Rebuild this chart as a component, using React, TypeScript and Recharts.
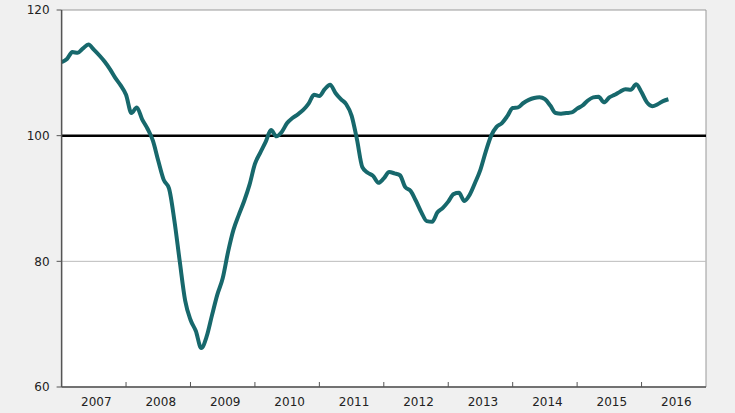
import { LineChart, Line, XAxis, YAxis, ReferenceLine, ReferenceArea } from 'recharts';

// monthly index values, Jan 2007 .. Jun 2016
const y2007 = [111.7, 112.2, 113.3, 113.2, 113.9, 114.5, 113.7, 112.8, 111.8, 110.6, 109.2, 108.0];
const y2008 = [106.5, 103.6, 104.5, 102.6, 101.1, 99.2, 96.0, 93.0, 91.6, 86.5, 80.0, 73.8];
const y2009 = [70.7, 68.9, 66.2, 68.0, 71.4, 74.7, 77.3, 81.5, 85.0, 87.4, 89.6, 92.2];
const y2010 = [95.5, 97.3, 99.0, 100.9, 99.9, 100.6, 102.0, 102.8, 103.4, 104.1, 105.1, 106.5];
const y2011 = [106.3, 107.4, 108.1, 106.8, 105.8, 105.0, 103.2, 99.4, 95.0, 94.1, 93.6, 92.5];
const y2012 = [93.2, 94.2, 94.0, 93.7, 91.8, 91.2, 89.6, 87.8, 86.4, 86.3, 87.8, 88.5];
const y2013 = [89.5, 90.7, 90.9, 89.6, 90.6, 92.5, 94.6, 97.5, 100.0, 101.4, 102.0, 103.1];
const y2014 = [104.4, 104.5, 105.2, 105.7, 106.0, 106.1, 105.8, 104.8, 103.6, 103.5, 103.6, 103.7];
const y2015 = [104.3, 104.8, 105.6, 106.1, 106.2, 105.3, 106.1, 106.5, 107.0, 107.4, 107.3, 108.2];
const y2016 = [106.9, 105.3, 104.7, 105.0, 105.5, 105.8];

const years = ['2007', '2008', '2009', '2010', '2011', '2012', '2013', '2014', '2015', '2016'];
const yTicks = [60, 80, 100, 120];

const values = [...y2007, ...y2008, ...y2009, ...y2010, ...y2011, ...y2012, ...y2013, ...y2014, ...y2015, ...y2016];
const data = values.map((v, i) => ({ m: i, v }));

// year boundaries get a tick mark, year middles get the label
const boundaries = years.slice(1).map((_, i) => (i + 1) * 12);
const middles = years.map((_, i) => i * 12 + 6);
const xTicks = [...middles, ...boundaries].sort((a, b) => a - b);

const font = 'DejaVu Sans, Verdana, sans-serif';

function YearTick(props: any) {
  const { x, y, payload } = props;
  const v = payload.value;
  if (v % 12 === 0) {
    return <line x1={x} y1={y} x2={x} y2={y - 5} stroke="#555" strokeWidth={1} />;
  }
  return (
    <text x={x + 2.5} y={y + 19} textAnchor="middle" fontSize={12} fontFamily={font} fill="#222">
      {years[Math.floor(v / 12)]}
    </text>
  );
}

export default function App() {
  return (
    <div style={{ position: 'fixed', left: 0, top: 0, width: 735, height: 413, background: '#f0f0f0' }}>
      <LineChart width={735} height={413} data={data} margin={{ top: 10, right: 29, bottom: 0, left: 11.6 }}>
        <ReferenceArea x1={0} x2={120} y1={60} y2={120} fill="#fff" fillOpacity={1} stroke="#999" strokeWidth={1} />
        <XAxis
          dataKey="m"
          type="number"
          domain={[0, 120]}
          ticks={xTicks}
          interval={0}
          tickSize={0}
          tickMargin={0}
          tick={<YearTick />}
          height={26}
          stroke="#555"
          axisLine={{ stroke: '#555', strokeWidth: 1.5 }}
        />
        <YAxis
          type="number"
          domain={[60, 120]}
          ticks={yTicks}
          width={50}
          tickSize={5}
          tickMargin={7}
          axisLine={{ stroke: '#555', strokeWidth: 1.5 }}
          tickLine={{ stroke: '#555' }}
          tick={{ fontSize: 12, fontFamily: font, fill: '#222' }}
        />
        <ReferenceLine y={80} stroke="#bbb" strokeWidth={1} />
        <ReferenceLine y={100} stroke="#000" strokeWidth={2.5} />
        <Line
          type="monotone"
          dataKey="v"
          stroke="#17686c"
          strokeWidth={4}
          dot={false}
          isAnimationActive={false}
        />
      </LineChart>
    </div>
  );
}
